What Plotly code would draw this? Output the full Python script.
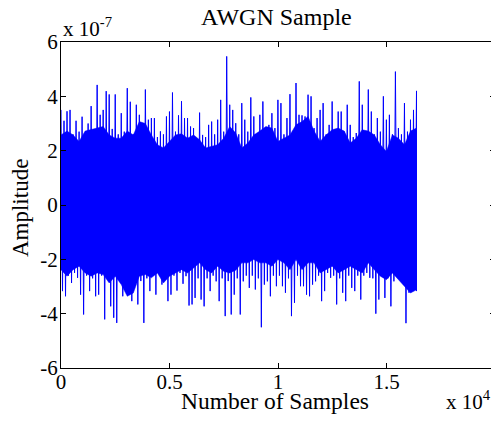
import numpy as np
import plotly.graph_objects as go

# ---- data (amplitudes in units of 1e-7) ----
N_SAMPLES = 16384
SCALE = 1e-7

# spike tips, one pair per pixel-column group across the record
upper_peaks = [
    3.50, 3.10, 3.45, 3.50, 2.60, 3.10, 2.70, 3.25, 2.50, 3.00,
    3.64, 2.60, 4.42, 3.32, 3.50, 4.19, 4.07, 2.80, 4.07, 2.60,
    3.38, 2.70, 4.30, 3.80, 2.60, 3.69, 3.32, 2.80, 4.25, 3.14,
    3.20, 3.20, 2.50, 2.71, 2.60, 3.26, 3.44, 4.14, 2.70, 3.30,
    3.82, 3.20, 3.20, 2.89, 2.83, 2.40, 3.40, 2.58, 2.50, 2.95,
    3.07, 2.60, 3.14, 3.87, 2.70, 5.47, 3.69, 3.50, 3.01, 2.60,
    3.75, 3.14, 2.70, 3.96, 3.26, 2.60, 3.32, 3.81, 2.60, 2.95,
    3.38, 2.83, 3.87, 3.75, 2.60, 3.20, 4.08, 2.70, 4.49, 3.32,
    3.30, 3.26, 4.06, 4.00, 2.83, 3.20, 3.50, 3.75, 2.60, 2.95,
    3.81, 2.60, 3.44, 3.44, 2.70, 3.69, 2.95, 2.50, 2.65, 4.55,
    3.69, 2.70, 4.25, 3.44, 2.60, 3.20, 2.70, 4.00, 3.14, 3.32,
    2.60, 4.91, 2.83, 2.60, 3.75, 2.70, 3.14, 3.50, 4.20,
]

lower_peaks = [
    -3.17, -3.36, -2.60, -2.87, -2.50, -2.68, -3.30, -4.03, -2.60, -3.17,
    -2.70, -3.36, -3.30, -2.60, -4.21, -2.70, -3.73, -4.15, -4.34, -2.80,
    -3.36, -2.60, -3.17, -3.54, -2.70, -3.66, -2.80, -4.34, -2.70, -3.17,
    -2.60, -3.30, -2.50, -2.93, -2.60, -3.54, -3.30, -2.60, -3.15, -2.50,
    -2.90, -2.62, -3.70, -3.66, -3.42, -2.70, -3.48, -3.73, -2.70, -3.17,
    -2.60, -2.81, -3.54, -2.70, -4.09, -2.80, -4.03, -3.30, -2.70, -4.03,
    -2.81, -2.60, -3.05, -2.60, -3.11, -2.70, -4.50, -2.93, -2.81, -3.36,
    -2.60, -2.99, -2.60, -2.99, -3.23, -2.70, -4.09, -3.60, -2.60, -2.99,
    -2.99, -3.30, -3.36, -2.93, -2.81, -2.60, -3.54, -3.17, -2.50, -2.68,
    -2.60, -3.66, -2.70, -3.23, -3.54, -2.60, -3.05, -3.17, -2.60, -3.48,
    -2.60, -2.50, -2.68, -2.70, -4.00, -3.48, -2.60, -3.42, -2.70, -3.73,
    -2.81, -2.50, -2.68, -2.60, -4.35, -3.23, -2.75, -2.60, -3.17,
]

# edges of the dense (solid) core of the noise band
core_upper = [
    2.58, 2.72, 2.58, 2.34, 2.72, 2.77, 2.83, 2.89, 2.58, 2.46,
    2.46, 2.72, 2.58, 3.07, 3.00, 2.58, 2.22, 2.10, 2.34, 2.58,
    2.62, 2.46, 2.58, 2.40, 2.10, 2.16, 2.22, 2.46, 2.89, 2.65,
    2.10, 2.28, 2.58, 2.72, 2.89, 2.83, 2.34, 2.46, 2.58, 2.95,
    3.07, 3.26, 2.72, 2.34, 2.58, 2.77, 2.83, 2.72, 2.28, 2.46,
    2.77, 2.72, 2.58, 2.22, 1.97, 2.58, 2.46, 2.22, 2.72, 2.83,
]
core_lower = [
    -2.38, -2.62, -2.38, -2.25, -2.50, -2.62, -2.50, -2.56, -2.87, -2.62,
    -2.93, -3.36, -3.24, -2.62, -2.56, -2.68, -2.50, -2.87, -2.62, -2.50,
    -2.38, -2.50, -2.32, -2.13, -2.38, -2.50, -2.25, -2.44, -2.50, -2.40,
    -2.13, -2.13, -2.01, -2.13, -2.13, -2.25, -2.01, -2.13, -2.38, -2.01,
    -2.38, -2.13, -2.13, -2.50, -2.38, -2.25, -2.50, -2.38, -2.25, -2.38,
    -2.50, -2.13, -2.38, -2.62, -2.75, -2.50, -2.75, -3.00, -3.24, -3.12,
]

x_tickvals = [0, 5000, 10000, 15000, 20000]
x_ticktext = ["0", "0.5", "1", "1.5", "2"]
y_tickvals = [-6, -4, -2, 0, 2, 4, 6]
y_ticktext = ["-6", "-4", "-2", "0", "2", "4", "6"]

# ---- spike trace: alternate between upper and lower tips ----
n = len(upper_peaks)
step = (N_SAMPLES - 1) / (n - 1)
xs, ys = [], []
for i in range(n):
    xs.append(i * step)
    ys.append(upper_peaks[i] * SCALE)
    if i < n - 1:
        xs.append(i * step + step / 2)
        ys.append(lower_peaks[i] * SCALE)
xs.append((n - 1) * step)
ys.append(lower_peaks[-1] * SCALE)

# ---- core band polygon ----
m = len(core_upper)
cx = list(np.linspace(0, N_SAMPLES - 1, m))
band_x = cx + cx[::-1]
band_y = [v * SCALE for v in core_upper] + [v * SCALE for v in core_lower[::-1]]

FONT = "Liberation Serif"
BLUE = "#0000FF"

fig = go.Figure()
fig.add_trace(go.Scatter(
    x=band_x, y=band_y, mode="lines", fill="toself", fillcolor=BLUE,
    line=dict(color=BLUE, width=0.5), hoverinfo="skip", showlegend=False,
))
fig.add_trace(go.Scatter(
    x=xs, y=ys, mode="lines",
    line=dict(color=BLUE, width=1),
    hoverinfo="skip", showlegend=False,
))

axis_common = dict(
    showline=True, linecolor="black", linewidth=1, mirror="ticks",
    ticks="inside", ticklen=5, tickcolor="black", showgrid=False,
    zeroline=False, automargin=False,
    tickfont=dict(family=FONT, size=21, color="black"),
)

# the page body has an 8px margin: shrink the figure and margins to match
fig.update_layout(
    width=491, height=418,
    margin=dict(l=53, r=4, t=34, b=58),
    paper_bgcolor="white", plot_bgcolor="white",
    xaxis=dict(range=[0, 20000], tickvals=x_tickvals, ticktext=x_ticktext,
               ticklabelstandoff=-5, **axis_common),
    yaxis=dict(range=[-6e-7, 6e-7], tickvals=[v * SCALE for v in y_tickvals],
               ticktext=y_ticktext, ticklabelstandoff=-2, **axis_common),
    font=dict(family=FONT, color="black"),
    annotations=[
        dict(text="AWGN Sample", x=0.497, y=1.077, xref="paper", yref="paper",
             xanchor="center", yanchor="middle", showarrow=False,
             font=dict(family=FONT, size=24, color="black")),
        dict(text="Number of Samples", x=0.494, y=-0.101, xref="paper", yref="paper",
             xanchor="center", yanchor="middle", showarrow=False,
             font=dict(family=FONT, size=23.5, color="black")),
        dict(text="Amplitude", x=-0.095, y=0.49, xref="paper", yref="paper",
             xanchor="center", yanchor="middle", textangle=-90, showarrow=False,
             font=dict(family=FONT, size=23, color="black")),
        dict(text="x 10<sup>-7</sup>", x=0.0, y=1.045, xref="paper", yref="paper",
             xanchor="left", yanchor="middle", showarrow=False,
             font=dict(family=FONT, size=21, color="black")),
        dict(text="x 10<sup>4</sup>", x=0.995, y=-0.1, xref="paper", yref="paper",
             xanchor="right", yanchor="middle", showarrow=False,
             font=dict(family=FONT, size=21, color="black")),
    ],
)

fig.write_html("out.html")
